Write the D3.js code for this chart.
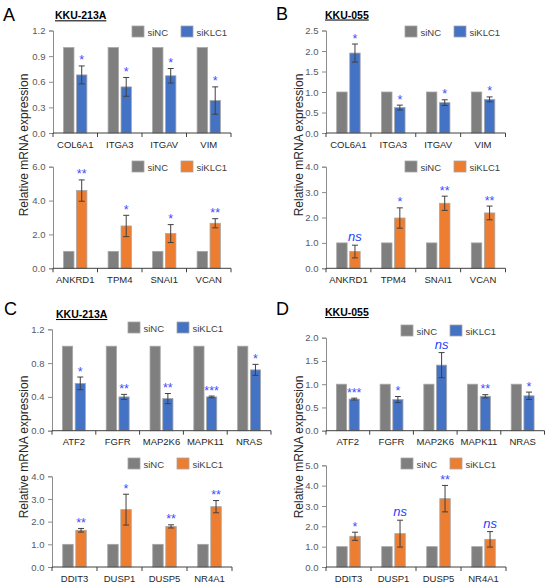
<!DOCTYPE html>
<html lang="en">
<head>
<meta charset="utf-8">
<title>KLC1 knockdown qPCR</title>
<script src="https://cdn.jsdelivr.net/npm/d3@7/dist/d3.min.js"></script>
<style>
  body { margin: 0; background: #fff; }
  svg { display: block; font-family: "Liberation Sans", Arial, sans-serif; }
  .tick text { font-size: 9.5px; fill: #595959; }
  .cat { font-size: 9.5px; fill: #262626; }
  .leg { font-size: 9.5px; fill: #404040; }
  .ylab { font-size: 12px; fill: #262626; }
  .panel { font-size: 18px; fill: #000; }
  .title { font-size: 10.5px; font-weight: bold; text-decoration: underline; fill: #000; }
</style>
</head>
<body>
<svg id="fig" width="550" height="587"></svg>
<script>
// ---- data ----
const series = ["siNC", "siKLC1"];

// A: KKU-213A
const catsA1 = ["COL6A1", "ITGA3", "ITGAV", "VIM"];
const ncA1   = [1, 1, 1, 1];
const klcA1  = [0.68, 0.54, 0.67, 0.38];
const errA1  = [0.105, 0.11, 0.085, 0.16];
const sigA1  = ["*", "*", "*", "*"];
const ticksA1 = [0, 0.3, 0.6, 0.9, 1.2];

const catsA2 = ["ANKRD1", "TPM4", "SNAI1", "VCAN"];
const ncA2   = [1, 1, 1, 1];
const klcA2  = [4.59, 2.5, 2.05, 2.66];
const errA2  = [0.63, 0.63, 0.53, 0.27];
const sigA2  = ["**", "*", "*", "**"];
const ticksA2 = [0, 2, 4, 6];

// B: KKU-055
const catsB1 = ["COL6A1", "ITGA3", "ITGAV", "VIM"];
const ncB1   = [1, 1, 1, 1];
const klcB1  = [1.95, 0.62, 0.74, 0.82];
const errB1  = [0.22, 0.06, 0.07, 0.06];
const sigB1  = ["*", "*", "*", "*"];
const ticksB1 = [0, 0.5, 1, 1.5, 2, 2.5];

const catsB2 = ["ANKRD1", "TPM4", "SNAI1", "VCAN"];
const ncB2   = [1, 1, 1, 1];
const klcB2  = [0.66, 1.98, 2.56, 2.18];
const errB2  = [0.25, 0.4, 0.28, 0.27];
const sigB2  = ["ns", "*", "**", "**"];
const ticksB2 = [0, 1, 2, 3, 4];

// C: KKU-213A
const catsC1 = ["ATF2", "FGFR", "MAP2K6", "MAPK11", "NRAS"];
const ncC1   = [1, 1, 1, 1, 1];
const klcC1  = [0.56, 0.40, 0.38, 0.40, 0.72];
const errC1  = [0.075, 0.03, 0.06, 0.01, 0.065];
const sigC1  = ["*", "**", "**", "***", "*"];
const ticksC1 = [0, 0.4, 0.8, 1.2];

const catsC2 = ["DDIT3", "DUSP1", "DUSP5", "NR4A1"];
const ncC2   = [1, 1, 1, 1];
const klcC2  = [1.62, 2.53, 1.79, 2.66];
const errC2  = [0.08, 0.68, 0.07, 0.27];
const sigC2  = ["**", "*", "**", "**"];
const ticksC2 = [0, 1, 2, 3, 4];

// D: KKU-055
const catsD1 = ["ATF2", "FGFR", "MAP2K6", "MAPK11", "NRAS"];
const ncD1   = [1, 1, 1, 1, 1];
const klcD1  = [0.68, 0.67, 1.41, 0.74, 0.75];
const errD1  = [0.02, 0.065, 0.27, 0.035, 0.08];
const sigD1  = ["***", "*", "ns", "**", "*"];
const ticksD1 = [0, 0.5, 1, 1.5, 2];

const catsD2 = ["DDIT3", "DUSP1", "DUSP5", "NR4A1"];
const ncD2   = [1, 1, 1, 1];
const klcD2  = [1.51, 1.64, 3.36, 1.36];
const errD2  = [0.2, 0.66, 0.65, 0.38];
const sigD2  = ["*", "ns", "**", "ns"];
const ticksD2 = [0, 1, 2, 3, 4, 5];

// ---- colours ----
const grey = "#7f7f7f", blue = "#4472c4", orange = "#ed7d31";

// ---- layout for each small chart ----
function pack(cats, nc, klc, err, sig) {
  return cats.map((c, i) => ({ cat: c, nc: nc[i], klc: klc[i], err: err[i], sig: sig[i] }));
}
const charts = [
  { rows: pack(catsA1, ncA1, klcA1, errA1, sigA1), ticks: ticksA1, col: blue,   x0: 53,  x1: 231,   y0: 133,   y1: 30.5,  leg: [79, 26] },
  { rows: pack(catsA2, ncA2, klcA2, errA2, sigA2), ticks: ticksA2, col: orange, x0: 53,  x1: 231,   y0: 268.3, y1: 166.7, leg: [79, 161] },
  { rows: pack(catsB1, ncB1, klcB1, errB1, sigB1), ticks: ticksB1, col: blue,   x0: 326, x1: 505.5, y0: 133,   y1: 30.5,  leg: [79, 26] },
  { rows: pack(catsB2, ncB2, klcB2, errB2, sigB2), ticks: ticksB2, col: orange, x0: 326, x1: 505.5, y0: 268.3, y1: 166.7, leg: [79, 161] },
  { rows: pack(catsC1, ncC1, klcC1, errC1, sigC1), ticks: ticksC1, col: blue,   x0: 52,  x1: 271,   y0: 430.7, y1: 329.3, leg: [76, 322] },
  { rows: pack(catsC2, ncC2, klcC2, errC2, sigC2), ticks: ticksC2, col: orange, x0: 52,  x1: 232,   y0: 567,   y1: 476.3, leg: [76, 458] },
  { rows: pack(catsD1, ncD1, klcD1, errD1, sigD1), ticks: ticksD1, col: blue,   x0: 326, x1: 544.5, y0: 430.7, y1: 337.7, leg: [75, 325] },
  { rows: pack(catsD2, ncD2, klcD2, errD2, sigD2), ticks: ticksD2, col: orange, x0: 326, x1: 506,   y0: 567,   y1: 465.3, leg: [75, 458] }
];

const svg = d3.select("#fig");

charts.forEach(ch => {
  const g = svg.append("g");
  const top = ch.ticks[ch.ticks.length - 1];
  const y = d3.scaleLinear().domain([0, top]).range([ch.y0, ch.y1]);
  const x = d3.scaleBand().domain(ch.rows.map(d => d.cat)).range([ch.x0, ch.x1]);
  const xs = d3.scaleBand().domain(series).range([0, x.bandwidth()])
               .paddingInner(0.2).paddingOuter(0.82);

  // y axis
  const ya = g.append("g").attr("transform", `translate(${ch.x0},0)`)
    .call(d3.axisLeft(y).tickValues(ch.ticks).tickFormat(d3.format(".1f"))
      .tickSize(4).tickPadding(3.5));
  ya.select(".domain").attr("stroke", "#8c8c8c");
  ya.selectAll(".tick line").attr("stroke", "#8c8c8c");

  // bars
  const grp = g.selectAll("g.grp").data(ch.rows).join("g")
    .attr("class", "grp").attr("transform", d => `translate(${x(d.cat)},0)`);
  grp.append("rect")
    .attr("x", xs("siNC")).attr("width", xs.bandwidth())
    .attr("y", d => y(d.nc)).attr("height", d => y(0) - y(d.nc))
    .attr("fill", grey).attr("stroke", "#a6a6a6").attr("stroke-width", 0.8);
  grp.append("rect")
    .attr("x", xs("siKLC1")).attr("width", xs.bandwidth())
    .attr("y", d => y(d.klc)).attr("height", d => y(0) - y(d.klc))
    .attr("fill", ch.col).attr("stroke", "#a6a6a6").attr("stroke-width", 0.8);

  // error bars
  const cx = xs("siKLC1") + xs.bandwidth() / 2;
  const eb = grp.append("g").attr("stroke", "#404040").attr("stroke-width", 1);
  eb.append("line").attr("x1", cx).attr("x2", cx)
    .attr("y1", d => y(d.klc + d.err)).attr("y2", d => y(d.klc - d.err));
  eb.append("line").attr("x1", cx - 3).attr("x2", cx + 3)
    .attr("y1", d => y(d.klc + d.err)).attr("y2", d => y(d.klc + d.err));
  eb.append("line").attr("x1", cx - 3).attr("x2", cx + 3)
    .attr("y1", d => y(d.klc - d.err)).attr("y2", d => y(d.klc - d.err));

  // significance marks
  grp.append("text")
    .attr("x", cx)
    .attr("y", d => y(d.klc + d.err) - (d.sig === "ns" ? 4 : 1.5))
    .attr("text-anchor", "middle")
    .attr("fill", d => d.sig === "ns" ? "#1f3fff" : "#3b4bff")
    .style("font-size", d => d.sig === "ns" ? "13px" : "12.5px")
    .style("font-style", d => d.sig === "ns" ? "italic" : "normal")
    .text(d => d.sig);

  // category axis, with a tick at every group boundary
  g.append("line").attr("x1", ch.x0).attr("x2", ch.x1)
    .attr("y1", ch.y0).attr("y2", ch.y0).attr("stroke", "#404040");
  const bounds = [ch.x0].concat(ch.rows.map(d => x(d.cat) + x.bandwidth()));
  g.selectAll("line.sep").data(bounds).join("line").attr("class", "sep")
    .attr("x1", d => d).attr("x2", d => d)
    .attr("y1", ch.y0).attr("y2", ch.y0 + 4).attr("stroke", "#404040");
  g.selectAll("text.cat").data(ch.rows).join("text").attr("class", "cat")
    .attr("x", d => x(d.cat) + x.bandwidth() / 2).attr("y", ch.y0 + 14.5)
    .attr("text-anchor", "middle").text(d => d.cat);

  // legend
  const lg = g.append("g").attr("transform", `translate(${ch.x0 + ch.leg[0]},${ch.leg[1]})`);
  [grey, ch.col].forEach((c, i) => {
    lg.append("rect").attr("x", i * 49).attr("y", 0).attr("width", 12).attr("height", 11)
      .attr("fill", c).attr("stroke", "#a6a6a6").attr("stroke-width", 0.8);
    lg.append("text").attr("class", "leg").attr("x", i * 49 + 15.5).attr("y", 9.5).text(series[i]);
  });
});

// panel letters, cell-line titles, y labels
const panels = [
  { L: "A", lx: 3,   ly: 21,  t: "KKU-213A", tx: 55,  ty: 19.3, yx: 28,  yy: 145 },
  { L: "B", lx: 276, ly: 20,  t: "KKU-055",  tx: 325, ty: 18.5, yx: 303, yy: 145 },
  { L: "C", lx: 4,   ly: 315, t: "KKU-213A", tx: 56,  ty: 318,  yx: 28,  yy: 447 },
  { L: "D", lx: 276, ly: 315, t: "KKU-055",  tx: 325, ty: 316,  yx: 303, yy: 447 }
];
panels.forEach(p => {
  svg.append("text").attr("class", "panel").attr("x", p.lx).attr("y", p.ly).text(p.L);
  svg.append("text").attr("class", "title").attr("x", p.tx).attr("y", p.ty).text(p.t);
  svg.append("text").attr("class", "ylab").attr("text-anchor", "middle")
    .attr("transform", `translate(${p.yx},${p.yy}) rotate(-90)`)
    .text("Relative mRNA expression");
});
</script>
</body>
</html>
